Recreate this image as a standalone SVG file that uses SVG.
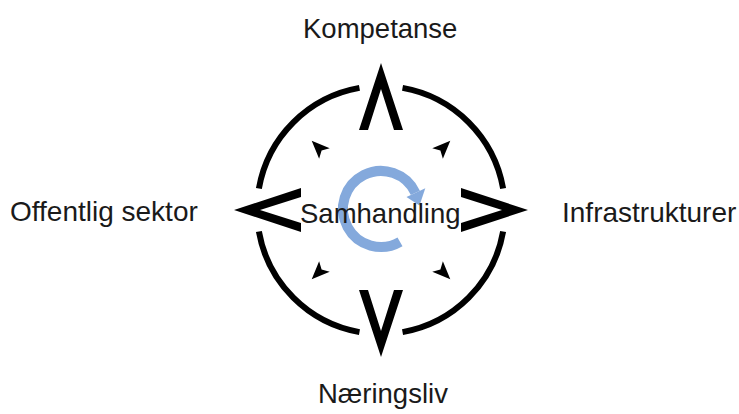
<svg xmlns="http://www.w3.org/2000/svg" width="739" height="414" viewBox="0 0 739 414">
  <style>
    .label { font-family: "Liberation Sans", Arial, sans-serif; font-size: 27.5px; fill: #1a1a1a; }
    .side { font-size: 28px; }
    .ring { fill: none; stroke: #000; stroke-width: 6; stroke-linecap: butt; }
    .mark { fill: #000; }
    .cycle { fill: none; stroke: #84a9dc; stroke-width: 10; }
  </style>
  <defs>
    <!-- chevron pointing up, relative to compass centre -->
    <polygon id="chevron" points="0,-147 22,-80 13,-80 0,-121 -13,-80 -22,-80"/>
    <!-- small arrowhead pointing up -->
    <polygon id="tick" points="0,-98 7.5,-80 0,-84 -7.5,-80"/>
  </defs>
  <rect width="739" height="414" fill="#fff"/>

  <g id="compass">
    <g id="ring">
      <path class="ring" d="M402.53,87.89 A124,124 0 0 1 503.11,188.47"/>
      <path class="ring" d="M503.11,231.53 A124,124 0 0 1 402.53,332.11"/>
      <path class="ring" d="M359.47,332.11 A124,124 0 0 1 258.89,231.53"/>
      <path class="ring" d="M258.89,188.47 A124,124 0 0 1 359.47,87.89"/>
    </g>
    <g id="points" class="mark" transform="translate(381,210)">
      <use href="#chevron"/>
      <use href="#chevron" transform="rotate(90)"/>
      <use href="#chevron" transform="rotate(180)"/>
      <use href="#chevron" transform="rotate(-90)"/>
      <use href="#tick" transform="rotate(-45)"/>
      <use href="#tick" transform="rotate(45)"/>
      <use href="#tick" transform="rotate(135)"/>
      <use href="#tick" transform="rotate(-135)"/>
    </g>
  </g>

  <g id="samhandling">
    <path class="cycle" d="M400,241.9 A38,38 0 1 1 415.4,192.9"/>
    <polygon fill="#84a9dc" points="406.5,197.1 425.3,188.3 419.5,205.5"/>
    <text class="label" x="300" y="223">Samhandling</text>
  </g>

  <g id="kompetanse"><text class="label" x="303" y="38">Kompetanse</text></g>
  <g id="offentlig-sektor"><text class="label side" x="10" y="221">Offentlig sektor</text></g>
  <g id="infrastrukturer"><text class="label side" x="562" y="222">Infrastrukturer</text></g>
  <g id="naeringsliv"><text class="label" x="318" y="403">Næringsliv</text></g>
</svg>
